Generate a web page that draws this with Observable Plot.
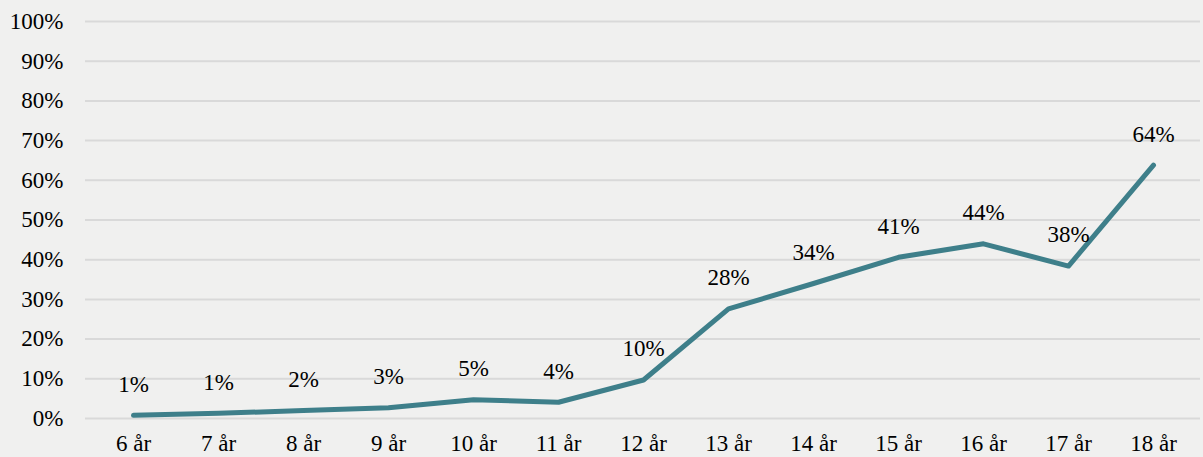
<!DOCTYPE html>
<html>
<head>
<meta charset="utf-8">
<script src="https://cdn.jsdelivr.net/npm/d3@7"></script>
<script src="https://cdn.jsdelivr.net/npm/@observablehq/plot@0.6"></script>
<style>
  html, body { margin: 0; padding: 0; background: #f0f0ef; }
  svg { display: block; }
  svg text { font-family: "Liberation Serif", "Times New Roman", serif !important; }
</style>
</head>
<body>
<div id="chart"></div>
<script>
const ages = ["6 år","7 år","8 år","9 år","10 år","11 år","12 år","13 år","14 år","15 år","16 år","17 år","18 år"];
const shares = [0.008, 0.013, 0.020, 0.027, 0.047, 0.041, 0.097, 0.276, 0.340, 0.406, 0.440, 0.384, 0.638];
const labels = ["1%","1%","2%","3%","5%","4%","10%","28%","34%","41%","44%","38%","64%"];
const yTicks = [0,0.1,0.2,0.3,0.4,0.5,0.6,0.7,0.8,0.9,1.0];

const data = ages.map((a, i) => ({age: a, value: shares[i], label: labels[i]}));

const chart = Plot.plot({
  width: 1203,
  height: 457,
  marginLeft: 85,
  marginRight: 3,
  marginTop: 21,
  marginBottom: 39,
  style: {background: "#f0f0ef", fontFamily: "Liberation Serif, serif", fontSize: "23px", color: "#000"},
  x: {type: "point", domain: ages, padding: 0.5, label: null},
  y: {domain: [0, 1], label: null},
  marks: [
    Plot.ruleY(yTicks, {stroke: "#d9d9d9", strokeWidth: 2}),
    Plot.axisY(yTicks, {tickFormat: d => Math.round(d * 100) + "%", tickSize: 0, tickPadding: 22, fontSize: 23, fill: "#000"}),
    Plot.axisX({tickSize: 0, tickPadding: 16, fontSize: 23, fill: "#000"}),
    Plot.line(data, {x: "age", y: "value", stroke: "#3e7f8a", strokeWidth: 5, strokeLinejoin: "round", strokeLinecap: "round"}),
    Plot.text(data, {x: "age", y: "value", text: "label", dy: -31, fontSize: 23, fill: "#000"})
  ]
});
document.getElementById("chart").appendChild(chart);
</script>
</body>
</html>
